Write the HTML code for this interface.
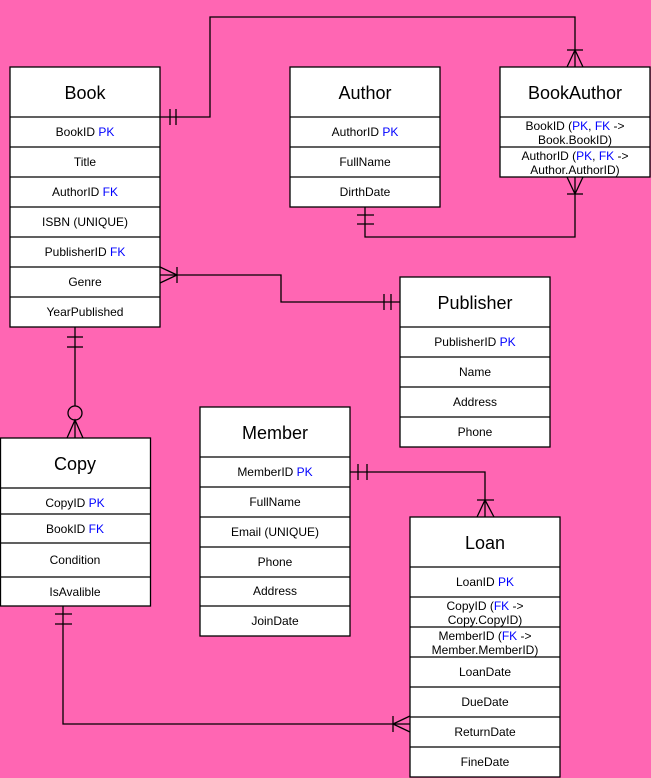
<!DOCTYPE html>
<html><head><meta charset="utf-8"><style>
html,body{margin:0;padding:0;background:#FF66B3;}
svg{display:block;}
text{font-family:"Liberation Sans",Arial,sans-serif;fill:#000;text-anchor:middle;}
.r{font-size:12px;}
.h{font-size:18px;}
.b{fill:#0000ff;}
</style></head><body>
<svg width="651" height="778" viewBox="0 0 651 778" xmlns="http://www.w3.org/2000/svg">
<rect width="651" height="778" fill="#FF66B3"/>
<g fill="none" stroke="#000" stroke-width="1.3">
<!-- Book-BookAuthor -->
<polyline points="160,117 210,117 210,17 575,17 575,67"/>
<line x1="170" y1="109" x2="170" y2="125"/><line x1="176" y1="109" x2="176" y2="125"/>
<line x1="567" y1="50" x2="583" y2="50"/><polyline points="567,67 575,50 583,67"/>
<!-- Author-BookAuthor -->
<polyline points="365,207 365,237 575,237 575,177"/>
<line x1="357" y1="215" x2="374" y2="215"/><line x1="357" y1="224" x2="374" y2="224"/>
<line x1="567" y1="194" x2="583" y2="194"/><polyline points="567,177 575,194 583,177"/>
<!-- Book-Publisher -->
<polyline points="160,275 281,275 281,302 400,302"/>
<line x1="177" y1="267" x2="177" y2="283"/><polyline points="160,267 177,275 160,283"/>
<line x1="384" y1="294" x2="384" y2="310"/><line x1="391" y1="294" x2="391" y2="310"/>
<!-- Book-Copy -->
<line x1="75" y1="327" x2="75" y2="406"/>
<line x1="67" y1="337" x2="83" y2="337"/><line x1="67" y1="347" x2="83" y2="347"/>
<circle cx="75" cy="413" r="7"/>
<polyline points="67,438 75,420 83,438"/><line x1="75" y1="420" x2="75" y2="438"/>
<!-- Member-Loan -->
<polyline points="350,472 485,472 485,517"/>
<line x1="358" y1="464" x2="358" y2="480"/><line x1="367" y1="464" x2="367" y2="480"/>
<line x1="477" y1="500" x2="494" y2="500"/><polyline points="477,517 485,500 494,517"/>
<!-- Copy-Loan -->
<polyline points="63,606 63,724 410,724"/>
<line x1="55" y1="614" x2="72" y2="614"/><line x1="55" y1="624" x2="72" y2="624"/>
<line x1="393" y1="716" x2="393" y2="732"/><polyline points="410,716 393,724 410,732"/>
</g>
<g fill="#fff" stroke="#000" stroke-width="1.3">
<!-- Book -->
<rect x="10" y="67" width="150" height="260"/>
<path d="M10 117H160M10 147H160M10 177H160M10 207H160M10 237H160M10 267H160M10 297H160"/>
<!-- Author -->
<rect x="290" y="67" width="150" height="140"/>
<path d="M290 117H440M290 147H440M290 177H440"/>
<!-- BookAuthor -->
<rect x="500" y="67" width="150" height="110"/>
<path d="M500 117H650M500 147H650"/>
<!-- Publisher -->
<rect x="400" y="277" width="150" height="170"/>
<path d="M400 327H550M400 357H550M400 387H550M400 417H550"/>
<!-- Member -->
<rect x="200" y="407" width="150" height="229"/>
<path d="M200 457H350M200 487H350M200 517H350M200 547H350M200 577H350M200 606H350"/>
<!-- Copy -->
<rect x="0.5" y="438" width="150" height="168"/>
<path d="M0 488H150M0 514H150M0 543H150M0 577H150"/>
<!-- Loan -->
<rect x="410" y="517" width="150" height="260"/>
<path d="M410 567H560M410 597H560M410 627H560M410 657H560M410 687H560M410 717H560M410 747H560"/>
</g>
<!-- Book -->
<text class="h" x="85" y="99">Book</text>
<text class="r" x="85" y="136">BookID <tspan class="b">PK</tspan></text>
<text class="r" x="85" y="166">Title</text>
<text class="r" x="85" y="196">AuthorID <tspan class="b">FK</tspan></text>
<text class="r" x="85" y="226">ISBN (UNIQUE)</text>
<text class="r" x="85" y="256">PublisherID <tspan class="b">FK</tspan></text>
<text class="r" x="85" y="286">Genre</text>
<text class="r" x="85" y="316">YearPublished</text>
<!-- Author -->
<text class="h" x="365" y="99">Author</text>
<text class="r" x="365" y="136">AuthorID <tspan class="b">PK</tspan></text>
<text class="r" x="365" y="166">FullName</text>
<text class="r" x="365" y="196">DirthDate</text>
<!-- BookAuthor -->
<text class="h" x="575" y="99">BookAuthor</text>
<text class="r" x="575" y="130">BookID (<tspan class="b">PK</tspan>, <tspan class="b">FK</tspan> -&gt;</text>
<text class="r" x="575" y="144">Book.BookID)</text>
<text class="r" x="575" y="160">AuthorID (<tspan class="b">PK</tspan>, <tspan class="b">FK</tspan> -&gt;</text>
<text class="r" x="575" y="174">Author.AuthorID)</text>
<!-- Publisher -->
<text class="h" x="475" y="309">Publisher</text>
<text class="r" x="475" y="346">PublisherID <tspan class="b">PK</tspan></text>
<text class="r" x="475" y="376">Name</text>
<text class="r" x="475" y="406">Address</text>
<text class="r" x="475" y="436">Phone</text>
<!-- Member -->
<text class="h" x="275" y="439">Member</text>
<text class="r" x="275" y="476">MemberID <tspan class="b">PK</tspan></text>
<text class="r" x="275" y="506">FullName</text>
<text class="r" x="275" y="536">Email (UNIQUE)</text>
<text class="r" x="275" y="566">Phone</text>
<text class="r" x="275" y="595">Address</text>
<text class="r" x="275" y="625">JoinDate</text>
<!-- Copy -->
<text class="h" x="75" y="470">Copy</text>
<text class="r" x="75" y="507">CopyID <tspan class="b">PK</tspan></text>
<text class="r" x="75" y="533">BookID <tspan class="b">FK</tspan></text>
<text class="r" x="75" y="564">Condition</text>
<text class="r" x="75" y="596">IsAvalible</text>
<!-- Loan -->
<text class="h" x="485" y="549">Loan</text>
<text class="r" x="485" y="586">LoanID <tspan class="b">PK</tspan></text>
<text class="r" x="485" y="610">CopyID (<tspan class="b">FK</tspan> -&gt;</text>
<text class="r" x="485" y="624">Copy.CopyID)</text>
<text class="r" x="485" y="640">MemberID (<tspan class="b">FK</tspan> -&gt;</text>
<text class="r" x="485" y="654">Member.MemberID)</text>
<text class="r" x="485" y="676">LoanDate</text>
<text class="r" x="485" y="706">DueDate</text>
<text class="r" x="485" y="736">ReturnDate</text>
<text class="r" x="485" y="766">FineDate</text>
</svg>
</body></html>
